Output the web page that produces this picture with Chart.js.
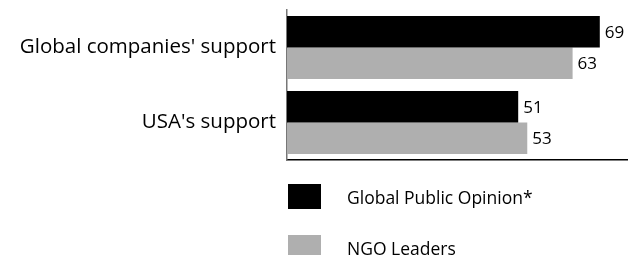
<!DOCTYPE html>
<html>
<head>
<meta charset="utf-8">
<script src="https://cdn.jsdelivr.net/npm/chart.js@4/dist/chart.umd.min.js"></script>
<style>
  body { margin: 0; background: #fff; }
  #wrap { position: relative; width: 636px; height: 255px; overflow: hidden; }
  #legend { position: absolute; left: 288px; top: 184px; font-family: 'Open Sans', sans-serif; font-size: 17.5px; color: #000; }
  .item { display: flex; align-items: center; height: 25px; margin-bottom: 26px; }
  .box { width: 33px; height: 25px; margin-right: 26px; }
</style>
</head>
<body>
<div id="wrap">
  <canvas id="myChart" width="636" height="255"></canvas>
  <div id="legend"></div>
</div>
<script>
'use strict';

let categories = ['Global companies\' support', 'USA\'s support'];
let publicOpinion = [69, 51];
let ngoLeaders = [63, 53];
let seriesNames = ['Global Public Opinion*', 'NGO Leaders'];
let seriesColors = ['#000000', '#afafaf'];

let ctx = document.getElementById('myChart');

// writes the value just right of each bar
let valueLabels = {
  id: 'valueLabels',
  afterDatasetsDraw(chart) {
    let c = chart.ctx;
    c.save();
    c.font = '17px "Open Sans", sans-serif';
    c.fillStyle = '#000';
    c.textBaseline = 'middle';
    c.textAlign = 'left';
    chart.data.datasets.forEach((ds, i) => {
      chart.getDatasetMeta(i).data.forEach((bar, j) => {
        c.fillText(ds.data[j], bar.x + 5, bar.y + 1);
      });
    });
    c.restore();
  }
};

let chart = new Chart(ctx, {
  type: 'bar',
  data: {
    labels: categories,
    datasets: [{
      label: seriesNames[0],
      data: publicOpinion,
      backgroundColor: seriesColors[0]
    },
    {
      label: seriesNames[1],
      data: ngoLeaders,
      backgroundColor: seriesColors[1]
    }]
  },
  options: {
    indexAxis: 'y',
    responsive: false,
    animation: false,
    layout: {
      padding: { top: 10, right: 9, bottom: 94, left: 0 }
    },
    scales: {
      x: {
        min: 0,
        max: 75,
        grid: { display: false, drawTicks: false },
        border: { display: true, color: '#000', width: 1.5 },
        ticks: { display: false },
        afterFit(scale) {
          scale.height = 1;
          scale.paddingLeft = 0;
          scale.paddingRight = 0;
        }
      },
      y: {
        grid: { display: false, drawTicks: false },
        border: { display: true, color: '#777', width: 1.5 },
        ticks: {
          color: '#000',
          padding: 11,
          font: { family: '"Open Sans", sans-serif', size: 20.5 }
        },
        afterFit(scale) {
          scale.width = 287;
          scale.paddingTop = 0;
          scale.paddingBottom = 0;
        }
      }
    },
    datasets: {
      bar: { categoryPercentage: 0.84, barPercentage: 1 }
    },
    plugins: {
      legend: { display: false },
      tooltip: { enabled: false }
    }
  },
  plugins: [valueLabels]
});

// html legend under the chart
let legendBox = document.getElementById('legend');
chart.data.datasets.forEach(ds => {
  let item = document.createElement('div');
  item.className = 'item';
  let box = document.createElement('span');
  box.className = 'box';
  box.style.background = ds.backgroundColor;
  let text = document.createElement('span');
  text.textContent = ds.label;
  item.appendChild(box);
  item.appendChild(text);
  legendBox.appendChild(item);
});
</script>
</body>
</html>
